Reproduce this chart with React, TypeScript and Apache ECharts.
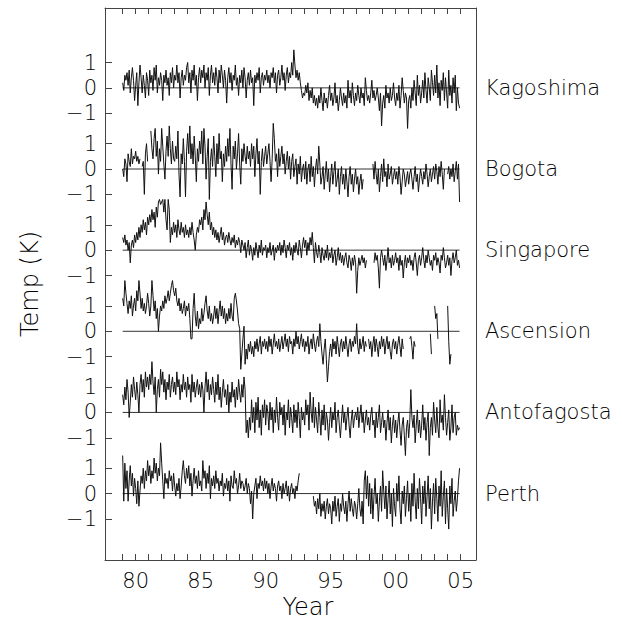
import { useEffect, useRef } from "react";
import * as echarts from "echarts";

// Monthly anomalies (K), January 1979 .. December 2004, one row per year
const START_YEAR = 1979;

const stations = ["Kagoshima", "Bogota", "Singapore", "Ascension", "Antofagosta", "Perth"];
const stationOffsets = [16, 12.8, 9.6, 6.4, 3.2, 0];
const yTickValues = [1, 0, -1];
const yTickLabels = ["1", "0", "\u22121"];
const yearTicks = [1979, 1980, 1981, 1982, 1983, 1984, 1985, 1986, 1987, 1988, 1989, 1990, 1991, 1992, 1993, 1994, 1995, 1996, 1997, 1998, 1999, 2000, 2001, 2002, 2003, 2004, 2005];
const yearLabelValues = [1980, 1985, 1990, 1995, 2000, 2005];
const yearLabels = ["80", "85", "90", "95", "00", "05"];

const kagoshima = [
  0.2, -0.1, 0.5, 0.3, 0.6, 0.1, 0.7, -0.2, 0.4, 0.8, 0.3, -0.5,
  0.1, 0.6, -0.7, 0.2, 0.9, 0.4, -0.2, 0.5, 0.1, -0.4, 0.6, 0.3,
  -0.3, 0.7, 0.2, 0.5, -0.1, 0.8, 0.3, 0.9, -0.2, 0.4, 0.1, 0.6,
  0.3, -0.5, 0.5, 0.2, 0.7, 0.1, 0.4, -0.3, 0.6, 0.2, 0.8, 0.0,
  0.5, 0.3, 0.9, 0.2, 0.6, -0.4, 0.4, 0.7, 0.1, 0.5, 0.3, 0.8,
  1.0, 0.2, 0.6, -0.2, 0.7, 0.3, 0.9, 0.1, 0.5, -0.5, 0.4, 0.8,
  0.2, 0.7, 0.4, 0.9, 0.0, 0.6, 0.3, 0.8, -0.3, 0.5, 0.9, 0.2,
  0.6, 0.1, 0.8, 0.4, -0.2, 0.7, 0.2, 0.9, 0.5, 0.0, 0.7, 0.3,
  -0.6, 0.4, 0.8, 0.2, 0.6, -0.1, 0.5, 0.3, 0.9, 0.1, 0.4, -0.3,
  0.5, 0.2, 0.7, 0.0, 0.8, 0.4, -0.4, 0.3, 0.6, 0.1, 0.7, 0.2,
  0.4, -0.7, 0.5, 0.2, 0.6, 0.3, 0.8, -0.2, 0.4, 0.6, 0.1, 0.5,
  0.3, 0.7, 0.2, 0.5, 0.0, 0.6, 0.4, 0.8, 0.2, 0.6, -0.2, 0.5,
  0.7, 0.1, 0.4, 0.9, 0.3, 0.6, -0.1, 0.5, 0.8, 0.2, 0.6, 0.4,
  1.0, 0.5, 1.5, 0.9, 0.4, 0.7, 0.3, 0.6, 0.2, -0.1, -0.4, -0.2,
  -0.3, 0.1, -0.2, 0.2, -0.5, -0.1, -0.4, 0.0, -0.6, -0.3, -0.7, -0.4,
  -0.8, -0.3, -0.6, 0.0, -0.5, -0.9, -0.2, -0.6, -0.4, -0.8, -0.3, 0.1,
  -0.5, -0.2, -0.7, -0.4, 0.2, -0.6, -0.3, -0.9, -0.5, 0.0, -0.4, -0.7,
  -0.2, -0.6, -0.3, -0.8, 0.3, -0.4, -0.1, -0.6, 0.2, -0.3, -0.7, -0.2,
  -0.5, 0.1, -0.3, -0.6, 0.0, -0.4, -0.2, -0.7, 0.4, -0.1, -0.5, -0.3,
  -0.6, -0.2, 0.3, -0.4, -0.1, -0.5, -0.3, 0.0, -0.4, -0.9, -0.2, -1.5,
  -0.6, -0.3, -0.8, 0.1, -0.4, -0.2, -0.6, 0.0, -0.5, -0.3, 0.2, -0.4,
  -0.7, -0.2, -0.5, 0.1, -0.8, -0.3, 0.4, -0.1, -0.6, -0.2, -0.4, -1.6,
  -0.5, -0.3, -0.8, 0.0, -0.5, 0.3, -0.2, -0.7, 0.5, -0.3, 0.1, -0.6,
  -0.2, 0.3, -0.4, 0.6, -0.1, -0.6, 0.4, 0.0, -0.5, 0.7, 0.2, -0.3,
  0.5, -0.2, 0.9, -0.4, 0.2, -0.7, 0.3, -0.1, 0.6, -0.5, 0.4, -0.2,
  -0.8, 0.7, -0.3, 0.1, -0.6, 0.4, -0.2, 0.5, -0.9, 0.0, -0.6, -0.8,
];

const bogota = [
  0.0, -0.3, 0.4, 0.2, -0.5, 0.6, 0.3, 0.1, 0.8, 0.2, 0.5, 0.4,
  0.7, 0.3, 0.5, 0.2, 0.4, null, 0.1, 0.3, -1.0, 0.6, 1.0, 0.3,
  null, null, 1.5, 0.8, 0.4, 1.2, 1.6, 0.5, 1.1, -0.2, 0.8, 0.3,
  1.6, 0.9, 0.2, -0.4, 0.7, 1.3, 0.5, 1.7, 0.8, 0.2, 1.1, 0.4,
  0.3, 0.9, 0.4, 1.5, -0.2, -1.1, 0.6, 0.2, 1.2, 0.3, -1.1, 0.7,
  1.4, 0.6, 1.7, 0.4, 1.0, 0.2, 1.3, 0.5, -0.5, 0.8, 0.3, 1.1,
  0.6, 1.5, 0.2, 1.6, 0.9, -0.4, 0.5, 1.2, -1.2, 0.3, 0.8, 0.1,
  1.3, 0.5, -0.3, 1.0, 0.2, 1.4, 0.4, 0.7, -0.5, 0.6, 0.1, 0.9,
  0.3, 1.2, 0.5, 1.6, 0.2, -0.8, 0.9, 0.4, 1.1, 0.0, 0.6, 1.4,
  0.2, -0.6, 0.8, 0.3, 1.0, 0.5, 0.2, 0.9, 0.4, 0.7, 0.1, 1.0,
  0.4, 0.9, -0.3, 0.6, 1.2, 0.2, 0.7, -1.0, 0.3, 0.8, 0.1, 0.5,
  0.9, 0.2, 0.6, 1.0, 0.3, -0.5, 0.4, 1.8, 1.2, 0.3, 0.6, -0.3,
  0.8, 0.1, 0.5, 0.9, 0.2, 0.6, -0.2, 0.3, 0.7, 0.0, 0.5, -0.4,
  0.3, 0.6, -0.3, 0.1, 0.4, -0.6, 0.2, -0.2, 0.5, -0.5, 0.0, 0.2,
  -0.4, 0.3, -0.6, 0.0, 0.2, -0.5, 0.5, -0.3, 0.1, -0.7, 0.0, 0.4,
  -0.2, 0.9, 0.2, -0.6, -0.3, 0.1, -0.8, -0.2, 0.3, -0.5, 0.0, -0.9,
  -0.3, 0.2, -0.6, -0.1, 0.3, -0.7, -0.4, 0.0, -1.0, -0.3, 0.1, -0.6,
  -0.2, -0.8, 0.0, -0.5, -1.1, -0.3, 0.1, -0.6, -0.2, -0.9, -0.4, 0.0,
  -0.6, -0.3, -1.0, -0.5, -0.2, -0.8, -0.4, null, null, null, null, null,
  null, null, null, 0.2, -0.4, 0.3, -0.2, -0.6, 0.0, -0.9, -0.3, 0.2,
  -0.5, 0.4, -0.3, -0.1, -0.7, 0.2, -0.4, -0.2, 0.1, -0.6, -0.3, 0.0,
  -0.4, -0.1, -0.6, 0.1, -0.3, -1.0, -0.5, 0.0, -0.2, -0.7, -0.4, -0.1,
  -0.6, -0.2, 0.0, -0.4, -0.8, -0.3, 0.1, -0.5, -0.2, -0.9, -0.4, 0.0,
  -0.3, -0.6, -0.1, -0.4, 0.2, -0.2, -0.7, -0.3, 0.0, -0.5, -0.2, 0.1,
  -0.4, 0.2, -0.1, -0.6, 0.1, -0.3, 0.3, -0.2, -0.8, 0.0, null, null,
  -0.2, 0.1, -0.4, 0.0, -0.3, 0.2, -0.5, -0.1, 0.3, -0.4, 0.2, -1.3,
];

const singapore = [
  0.5, 0.3, 0.6, 0.2, 0.4, 0.0, 0.3, -0.5, 0.2, 0.4, 0.1, 0.6,
  0.3, 0.7, 0.4, 0.9, 0.5, 1.0, 0.7, 1.2, 0.8, 1.1, 0.6, 1.3,
  1.0, 1.4, 1.1, 1.6, 1.2, 1.5, 0.9, 1.7, 1.3, 1.9, 2.0, 1.8,
  1.9, 2.0, 1.5, 2.0, 1.2, 0.8, 2.0, 1.6, 0.3, 0.9, 0.6, 1.1,
  0.7, 1.0, 0.5, 1.2, 0.8, 0.6, 1.1, 0.7, 0.9, 0.5, 1.0, 0.6,
  0.8, 0.5, 0.9, 0.6, 1.1, 0.7, 0.4, 0.0, 0.6, 0.9, 0.7, 1.2,
  1.0, 1.3, 0.8, 1.6, 1.2, 1.9, 1.4, 1.0, 1.5, 0.8, 1.1, 0.6,
  0.9, 0.5, 0.8, 0.4, 0.7, 0.3, 0.6, 0.9, 0.4, 0.7, 0.2, 0.5,
  0.6, 0.3, 0.7, 0.4, 0.2, 0.5, 0.3, 0.6, 0.1, 0.4, 0.2, 0.5,
  0.3, -0.1, 0.4, 0.2, 0.0, 0.3, -0.3, 0.1, 0.4, -0.2, 0.2, 0.0,
  -0.4, 0.1, -0.2, 0.3, 0.0, -0.3, 0.2, -0.1, 0.4, -0.2, 0.1, 0.0,
  0.2, -0.3, 0.1, -0.1, 0.3, -0.2, 0.0, 0.2, -0.4, 0.1, -0.1, 0.2,
  0.0, 0.3, -0.2, 0.2, -0.1, 0.4, 0.1, -0.3, 0.2, 0.0, 0.3, -0.2,
  0.1, -0.4, 0.2, -0.1, 0.3, 0.0, -0.2, 0.4, 0.1, -0.3, 0.2, 0.5,
  0.1, 0.4, -0.2, 0.3, 0.0, 0.5, 0.2, 0.7, 0.1, -0.5, 0.3, -0.1,
  -0.3, 0.2, -0.1, -0.5, 0.1, -0.2, -0.4, 0.0, -0.3, 0.2, -0.4, -0.1,
  -0.3, 0.1, -0.5, -0.2, 0.0, -0.6, -0.3, 0.1, -0.4, -0.1, -0.5, -0.2,
  -0.6, -0.3, -0.1, -0.5, -0.7, -0.2, -0.4, -0.8, -0.3, -0.6, -0.2, -0.5,
  -1.7, -0.8, -0.3, -0.6, -0.4, -0.2, -0.5, -0.3, -0.7, -0.4, null, null,
  null, null, null, null, -0.5, -0.1, -0.4, -0.2, -0.7, -1.5, -0.3, 0.0,
  -0.3, -0.6, -0.2, -0.8, -0.4, 0.1, -0.5, -0.3, -0.7, -0.2, -0.6, -0.4,
  -0.1, -0.5, -0.3, -0.8, -0.2, -0.6, -0.4, -1.1, -0.5, -0.2, -0.7, -0.3,
  -0.5, -0.2, -0.6, -0.4, -0.8, -0.3, -0.1, -0.5, -1.0, -0.4, -0.2, -0.6,
  -0.3, 0.1, -0.4, -0.7, -0.2, -0.5, 0.0, -0.3, -0.6, -0.4, -0.8, -0.2,
  -0.4, -0.1, -0.6, -0.3, -0.5, -0.9, -0.2, -0.4, 0.1, -0.3, -0.7, -0.5,
  -0.2, -0.6, -0.3, -1.0, -0.4, -0.1, -0.5, -0.3, 0.0, -0.6, -0.4, -0.7,
];

const ascension = [
  1.3, 1.0, 2.0, 1.5, 1.1, 0.7, 1.2, 0.9, 1.4, 0.6, 1.0, 1.3,
  0.8, 1.6, 1.2, 2.0, 1.5, 0.9, 1.3, 0.8, 1.1, 0.7, 1.0, 1.5,
  1.1, 0.6, 1.0, 2.0, 1.4, 0.8, 1.2, 0.5, 0.9, 0.0, 0.6, 1.0,
  0.8, 1.2, 0.9, 1.4, 1.1, 1.3, 1.6, 1.2, 1.5, 1.8, 2.0, 1.6,
  1.4, 1.7, 1.2, 1.0, 1.3, 0.8, 1.1, 0.7, 0.9, 1.2, 0.6, 1.0,
  0.8, 1.1, 0.5, -0.3, -0.3, 0.9, 1.5, 0.6, 0.2, 0.8, 0.1, 0.5,
  0.3, 0.9, 0.4, 0.7, 1.1, 1.4, 0.8, 0.5, 1.0, 0.4, 0.7, 0.3,
  0.6, 1.0, 0.5, 0.9, 0.3, 0.8, 1.2, 0.6, 1.0, 0.5, 0.9, 0.3,
  0.7, 0.4, 0.9, 0.5, 1.1, 0.6, 0.4, 1.3, 1.5, 1.2, 0.8, 0.3,
  0.1, -1.5, -0.9, -0.3, 0.2, -1.3, -0.7, -1.1, -0.5, -0.8, -0.4, -0.9,
  -0.6, -1.0, -0.4, -0.7, -0.3, -0.8, -0.5, -0.2, -0.9, -0.4, -0.6, -0.3,
  -0.7, -0.4, -0.8, -0.2, -0.6, -0.3, -0.9, -0.5, -0.1, -0.6, -0.4, -0.7,
  -0.3, -0.8, -0.5, -0.2, -0.7, -0.4, -0.1, -0.6, -0.3, -0.8, -0.2, -0.5,
  -0.4, -0.9, -0.3, -0.6, 0.0, -0.5, -0.2, -0.7, -0.4, -0.1, -0.6, -0.3,
  -0.8, -0.4, -0.6, -0.2, -0.9, -0.5, -0.3, -0.7, -0.1, -0.5, -0.8, -0.4,
  -0.2, -0.6, 0.3, -0.4, -0.9, -1.3, -0.7, -0.3, -1.1, -2.0, -1.4, -0.8,
  -0.5, -1.0, -0.3, -0.7, -0.4, -0.9, -0.2, -0.6, -1.0, -0.5, -0.3, -0.8,
  -0.4, -0.7, -0.2, -0.6, -1.0, -0.5, -0.3, -0.8, -0.4, -0.6, -0.2, -0.5,
  0.3, -0.6, -0.9, -0.3, -0.7, -0.5, -0.2, -0.8, -0.4, -0.6, null, -0.3,
  -0.7, -0.4, -1.0, -0.5, -0.2, -0.8, -0.3, -0.6, -1.0, -0.4, -0.7, -0.2,
  -0.6, -0.3, -0.9, -0.5, -0.2, -0.7, -0.4, -0.8, -1.1, -0.5, -0.3, -0.7,
  -0.4, -0.9, -0.5, -0.2, -0.6, -1.0, -0.3, -0.7, null, null, null, null,
  null, -0.3, -0.2, -0.6, -1.1, -0.4, -0.6, null, null, null, null, null,
  null, null, null, null, null, null, null, null, -0.1, -0.9, null, null,
  1.0, 0.5, 0.7, -0.3, null, null, null, null, null, null, null, null,
  1.0, -0.4, -1.3, -0.9, null, null, null, null, null, null, null, null,
];

const antofagasta = [
  0.7, 0.3, 1.0, 0.5, 1.3, 0.8, -0.2, 0.4, 1.1, 0.6, 1.4, 0.9,
  0.5, 1.2, 0.7, 0.0, 1.1, 1.5, 0.8, 1.3, 0.6, 1.6, 1.0, 1.4,
  0.9, 1.5, 1.1, 2.0, 1.2, 0.7, 1.4, 0.0, 0.9, 1.3, 0.6, 1.7,
  1.1, 1.6, 0.8, 1.3, 0.5, 1.2, 0.9, 1.5, 0.6, 1.1, 1.4, 0.8,
  1.2, 0.7, 1.6, 1.0, 1.3, 0.5, 1.1, 0.8, 1.5, 0.9, 1.2, 0.6,
  1.4, 0.9, 1.1, 0.4, 1.5, 0.8, 1.2, 0.6, 1.0, 1.3, 0.7, 1.1,
  0.6, 1.2, 0.9, 0.0, 1.0, 1.6, 0.8, 1.3, 0.5, 1.1, 0.7, 1.4,
  0.9, 0.4, 1.2, 0.7, 1.5, 0.5, 1.0, 0.2, 0.8, 1.3, 0.6, 0.9,
  0.3, 1.1, 0.0, 0.8, 0.4, 1.2, 0.6, 0.9, 0.2, 1.0, 0.5, 1.3,
  0.8, 0.4, 1.1, 0.6, 1.4, 0.9, -0.8, -0.3, -1.0, -0.2, -0.7, 0.5,
  -0.4, 0.2, -0.8, 0.4, -0.3, 0.6, -0.6, 0.1, -0.9, 0.3, -0.2, 0.5,
  -0.5, 0.3, 0.0, -0.7, 0.4, -0.3, 0.2, -0.8, 0.1, -0.4, 0.6, -0.2,
  -0.7, 0.4, -0.1, 0.2, -0.5, 0.3, -0.9, 0.0, -0.3, 0.5, -0.6, 0.2,
  -0.2, -0.8, 0.3, -0.4, 0.1, -0.6, 0.4, -0.2, -1.0, 0.2, -0.3, 0.0,
  -0.5, 0.5, -0.1, 0.3, -0.7, 0.8, 0.0, -0.4, 0.6, -0.6, 0.2, -0.3,
  -0.8, 0.4, -0.2, -0.9, 0.1, -0.5, 0.3, -0.7, 0.0, -0.3, -1.1, -0.4,
  0.2, -0.6, 0.0, -0.3, 0.4, -0.8, -0.2, 0.1, -0.5, -1.0, -0.3, 0.3,
  -0.4, 0.0, -0.7, -0.2, 0.2, -0.5, -1.0, -0.3, 0.1, -0.6, -0.2, 0.0,
  -0.3, 0.2, -0.6, -0.1, 0.3, -0.4, 0.0, -0.8, -0.3, 0.1, -0.5, -0.2,
  -0.7, -0.1, 0.2, -0.5, -0.3, -1.0, 0.0, -0.6, -0.2, 0.3, -0.8, -0.4,
  0.0, -0.6, -0.3, -1.1, -0.4, 0.1, -0.7, -0.2, -1.2, -0.5, -0.1, -0.8,
  -0.3, -1.0, -0.4, 0.0, -0.7, -1.3, -0.5, -0.2, -0.9, -1.7, -0.6, -0.3,
  -1.0, -0.4, 0.9, -0.2, -0.6, -0.1, -1.2, -0.5, 0.1, -0.8, -0.3, -1.0,
  -0.5, 0.3, -0.7, -0.2, -1.1, -0.4, 0.0, -1.7, -0.6, -0.2, -0.9, 0.4,
  -0.3, -0.8, 0.2, -0.6, -1.0, 0.5, -0.4, -0.1, -0.7, 0.7, -0.2, -0.9,
  -0.4, 0.1, -1.1, -0.6, 0.3, -0.8, -0.2, 0.0, -0.9, -0.5, -0.7, -0.6,
];

const perth = [
  1.5, -0.3, 1.2, 0.2, 0.9, -0.3, 0.5, 1.1, 0.3, 0.8, -0.1, 0.6,
  0.2, -0.4, 0.5, -0.5, 0.1, 0.7, 0.4, 1.0, 0.2, 0.9, 0.5, 1.3,
  0.7, 1.1, 0.4, 0.9, 0.6, 1.4, 0.8, 1.2, 0.5, 1.0, 0.7, 2.0,
  1.2, 0.5, -0.2, 0.8, 0.4, 0.6, 0.2, 0.9, 0.5, 0.7, 0.1, 0.8,
  0.3, -0.1, 0.4, 0.1, 0.6, -0.2, 0.3, 0.9, 1.3, 0.7, 0.4, 1.0,
  0.6, 1.1, 0.3, 0.8, -0.1, 0.5, 1.0, 0.4, 0.7, 0.2, 0.9, 0.3,
  0.5, 0.1, 1.3, 0.6, 0.9, 0.2, 0.8, 0.4, 1.1, -0.2, 0.6, 0.3,
  0.7, 0.2, 0.9, 0.4, 0.6, 0.1, 0.5, 0.3, 0.8, -0.1, 0.4, 0.2,
  0.6, 0.1, 0.5, -0.3, 0.7, 0.3, 0.2, 0.9, 0.4, 0.6, 0.0, 0.3,
  0.8, 0.2, 0.5, 0.4, 0.1, 0.3, 0.6, 0.0, 0.4, 0.2, -0.4, 0.1,
  -1.0, 0.0, 0.3, 0.6, -0.2, 0.4, 0.2, 0.7, 0.3, 0.5, 0.1, 0.6,
  0.2, 0.5, 0.0, 0.4, -0.2, 0.3, 0.6, 0.1, 0.4, 0.2, -0.3, 0.3,
  0.5, 0.1, 0.3, -0.2, 0.4, 0.0, 0.2, 0.5, -0.1, 0.3, -0.3, 0.2,
  0.4, 0.0, 0.2, -0.2, 0.3, 0.1, 0.5, 0.8, null, null, null, null,
  null, null, null, null, null, null, null, null, -0.1, -0.5, -0.3, -0.8,
  -0.2, -0.6, 0.0, -0.9, -0.4, -0.7, -0.3, -1.0, -0.5, -0.2, -0.8, -0.4,
  -0.6, -1.2, -0.3, -0.7, -0.1, -0.9, -0.5, -0.2, -1.1, -0.4, -0.7, 0.0,
  -0.5, -0.8, -0.3, -1.1, -0.4, 0.1, -0.7, -0.2, -0.6, -0.9, -0.3, -0.5,
  -1.0, -0.4, 0.2, -0.6, -0.9, -0.3, -1.2, 0.5, 0.9, -0.2, 0.7, -0.5,
  0.4, -0.8, 0.2, -1.0, -0.1, 0.6, -0.4, 0.0, -1.1, -0.3, 0.3, -0.7,
  0.9, 0.1, -0.6, 0.3, -1.0, -0.2, 0.5, -0.8, 0.0, -1.3, 0.2, -0.5,
  -0.9, 0.4, -0.3, 0.7, -0.6, -1.2, 0.1, -0.4, 0.3, -0.9, -0.2, 0.5,
  -0.7, 0.0, -1.1, 0.4, -0.5, 0.8, -0.3, -1.0, 0.2, -0.6, 0.6, -0.2,
  -1.2, 0.3, -0.4, 0.5, -0.9, -0.1, 0.7, -0.6, 0.2, -1.4, -0.3, 0.4,
  -0.8, 0.6, -0.2, -1.1, 0.3, -0.5, 0.9, -0.9, -0.1, 0.5, -1.2, 0.2,
  -0.6, -1.4, 0.3, -0.4, 0.6, -0.9, -0.3, 0.1, -0.7, -0.2, 0.5, 1.0,
];

const stationValues = [kagoshima, bogota, singapore, ascension, antofagasta, perth];

const FONT = "DejaVu Sans";
const WEIGHT = 200;
const INK = "#000";
const AXIS = "#444";

export default function App() {
  const ref = useRef<HTMLDivElement>(null);

  useEffect(() => {
    if (!ref.current) return;
    const chart = echarts.init(ref.current, undefined, { renderer: "svg" });

    const yTicks: number[] = [];
    const yLabelMap: Record<string, string> = {};
    stationOffsets.forEach((off) => {
      yTickValues.forEach((t, k) => {
        const v = Math.round((off + t) * 1000) / 1000;
        yTicks.push(v);
        yLabelMap[v.toFixed(3)] = yTickLabels[k];
      });
    });
    const nameMap: Record<string, string> = {};
    stationOffsets.forEach((off, i) => (nameMap[off.toFixed(3)] = stations[i]));
    const xLabelMap: Record<string, string> = {};
    yearLabelValues.forEach((y, i) => (xLabelMap[String(y)] = yearLabels[i]));

    const series: any[] = [];
    stationValues.forEach((vals, i) => {
      const off = stationOffsets[i];
      series.push({
        type: "line",
        name: stations[i] + " zero",
        data: [
          [START_YEAR, off],
          [START_YEAR + (vals.length - 1) / 12, off],
        ],
        showSymbol: false,
        lineStyle: { color: "#333", width: 1 },
        silent: true,
        z: 1,
      });
      series.push({
        type: "line",
        name: stations[i],
        data: vals.map((v, m) => [START_YEAR + m / 12, v === null ? null : v + off]),
        showSymbol: false,
        connectNulls: false,
        lineStyle: { color: "#111", width: 1 },
        z: 2,
      });
    });

    const xCommon = {
      type: "value",
      min: 1977.64,
      max: 2006.18,
      splitLine: { show: false },
      axisLine: { show: true, onZero: false, lineStyle: { color: AXIS, width: 1 } },
    };

    chart.setOption({
      animation: false,
      backgroundColor: "#fff",
      grid: { left: 105, right: 146, top: 8, bottom: 66, containLabel: false },
      xAxis: [
        {
          ...xCommon,
          position: "bottom",
          axisTick: { show: true, inside: true, length: 6, customValues: yearTicks, lineStyle: { color: AXIS } },
          axisLabel: {
            show: true,
            customValues: yearLabelValues,
            formatter: (v: number) => xLabelMap[String(Math.round(v))] ?? "",
            fontFamily: FONT,
            fontWeight: WEIGHT,
            fontSize: 21,
            color: INK,
            margin: 10,
          },
        },
        {
          ...xCommon,
          position: "top",
          axisTick: { show: true, inside: true, length: 6, customValues: yearTicks, lineStyle: { color: AXIS } },
          axisLabel: { show: false },
        },
      ],
      yAxis: [
        {
          type: "value",
          position: "left",
          min: -2.62,
          max: 19.15,
          splitLine: { show: false },
          axisLine: { show: true, onZero: false, lineStyle: { color: AXIS, width: 1 } },
          axisTick: { show: true, inside: true, length: 7, customValues: yTicks, lineStyle: { color: AXIS } },
          axisLabel: {
            show: true,
            customValues: yTicks,
            formatter: (v: number) => yLabelMap[v.toFixed(3)] ?? "",
            fontFamily: FONT,
            fontWeight: WEIGHT,
            fontSize: 21,
            color: INK,
            margin: 8,
          },
        },
        {
          type: "value",
          position: "right",
          min: -2.62,
          max: 19.15,
          splitLine: { show: false },
          axisLine: { show: true, onZero: false, lineStyle: { color: AXIS, width: 1 } },
          axisTick: { show: false },
          axisLabel: {
            show: true,
            customValues: stationOffsets,
            formatter: (v: number) => nameMap[v.toFixed(3)] ?? "",
            fontFamily: FONT,
            fontWeight: WEIGHT,
            fontSize: 21,
            color: INK,
            margin: 9,
          },
        },
      ],
      graphic: [
        {
          type: "text",
          x: 308,
          y: 607,
          style: {
            text: "Year",
            fontFamily: FONT,
            fontWeight: WEIGHT,
            fontSize: 24,
            fill: INK,
            align: "center",
            verticalAlign: "middle",
          },
        },
        {
          type: "text",
          x: 30,
          y: 284,
          rotation: Math.PI / 2,
          style: {
            text: "Temp (K)",
            fontFamily: FONT,
            fontWeight: WEIGHT,
            fontSize: 24,
            fill: INK,
            align: "center",
            verticalAlign: "middle",
          },
        },
      ],
      series,
    });

    return () => chart.dispose();
  }, []);

  return (
    <div
      ref={ref}
      style={{ position: "fixed", left: 0, top: 0, width: 622, height: 626, background: "#fff" }}
    />
  );
}
